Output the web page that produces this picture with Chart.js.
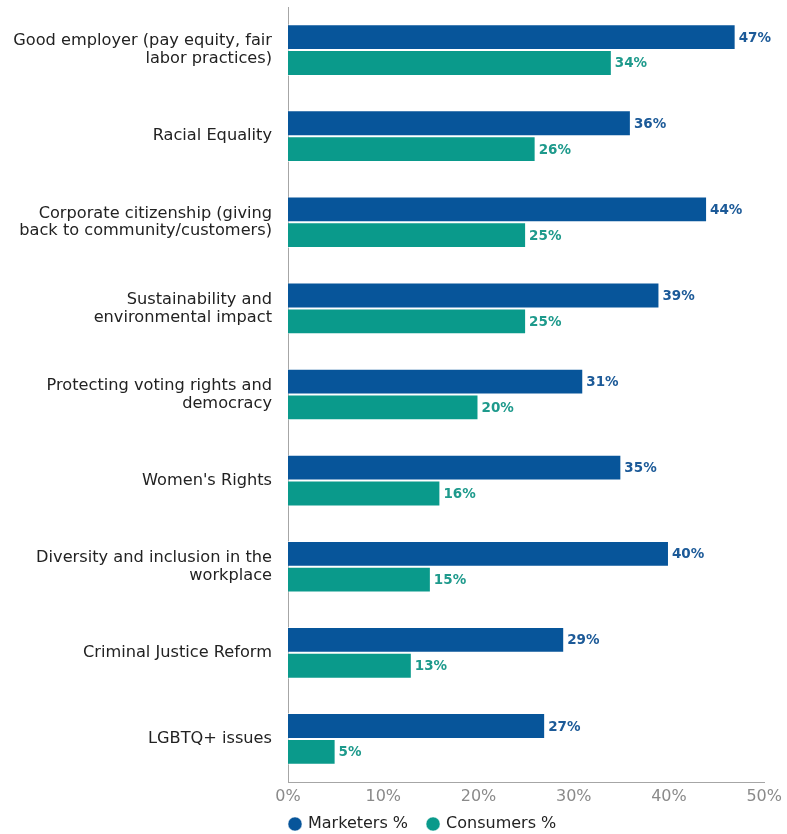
<!DOCTYPE html>
<html>
<head>
<meta charset="utf-8">
<script src="https://cdn.jsdelivr.net/npm/chart.js@4/dist/chart.umd.min.js"></script>
<style>
  html, body { margin: 0; padding: 0; background: #ffffff; overflow: hidden; }
  #wrap { width: 787px; height: 834px; position: relative; }
  canvas { display: block; }
</style>
</head>
<body>
<div id="wrap"><canvas id="c" width="787" height="834"></canvas></div>
<script>
const categories = [
  ["Good employer (pay equity, fair", "labor practices)"],
  "Racial Equality",
  ["Corporate citizenship (giving", "back to community/customers)"],
  ["Sustainability and", "environmental impact"],
  ["Protecting voting rights and", "democracy"],
  "Women's Rights",
  ["Diversity and inclusion in the", "workplace"],
  "Criminal Justice Reform",
  "LGBTQ+ issues"
];
const marketers = [47, 36, 44, 39, 31, 35, 40, 29, 27];
const consumers = [34, 26, 25, 25, 20, 16, 15, 13, 5];
const seriesNames = ["Marketers %", "Consumers %"];
const xTicks = [0, 10, 20, 30, 40, 50];

const BLUE = "#07559a";
const TEAL = "#0a9a8b";
const FONT = "'DejaVu Sans', 'Open Sans', sans-serif";

const valueLabels = {
  id: "valueLabels",
  afterDatasetsDraw(chart) {
    const ctx = chart.ctx;
    ctx.save();
    ctx.font = "bold 13.5px " + FONT;
    ctx.textBaseline = "middle";
    ctx.textAlign = "left";
    chart.data.datasets.forEach((ds, i) => {
      const meta = chart.getDatasetMeta(i);
      ctx.fillStyle = ds.labelColor;
      meta.data.forEach((bar, j) => {
        ctx.fillText(ds.data[j] + "%", bar.x + 3, bar.y + 1);
      });
    });
    ctx.restore();
  }
};

const LEGEND_PAD = 20;
const legendFix = {
  id: "legendFix",
  afterInit(chart) {
    const l = chart.legend;
    if (!l || l._fixed) return;
    const origFit = l.fit.bind(l);
    l.fit = function () { origFit(); this.height = 30; };
    l._fixed = true;
  },
  afterLayout(chart) {
    const l = chart.legend;
    if (!l) return;
    const dx = (chart.chartArea.left - LEGEND_PAD + 2) - l.left;
    l.left += dx;
    l.right += dx;
    l.top = 823 - 7 - LEGEND_PAD;
    l.bottom = chart.height;
    l.height = l.bottom - l.top;
  }
};

new Chart(document.getElementById("c"), {
  type: "bar",
  data: {
    labels: categories,
    datasets: [
      { label: seriesNames[0], data: marketers, backgroundColor: BLUE, borderColor: "rgba(255,255,255,0.55)", borderWidth: 1, labelColor: "#1c5a98" },
      { label: seriesNames[1], data: consumers, backgroundColor: TEAL, borderColor: "rgba(255,255,255,0.55)", borderWidth: 1, labelColor: "#1e9a8c" }
    ]
  },
  options: {
    indexAxis: "y",
    responsive: false,
    animation: false,
    devicePixelRatio: 1,
    datasets: { bar: { categoryPercentage: 0.6, barPercentage: 1.0 } },
    layout: { padding: { top: 7, right: 21, left: 0, bottom: 0 } },
    scales: {
      x: {
        min: 0, max: 50,
        grid: { display: false, drawTicks: false },
        border: { display: true, color: "#a6a6a6", width: 1 },
        afterBuildTicks(scale) { scale.ticks = xTicks.map(v => ({ value: v })); },
        afterFit(scale) { scale.height = 22; },
        ticks: {
          padding: 5,
          color: "#8a8a8a",
          font: { family: FONT, size: 16 },
          callback: v => v + "%",
          maxRotation: 0
        }
      },
      y: {
        grid: { display: false, drawTicks: false },
        border: { display: true, color: "#a6a6a6", width: 1 },
        afterFit(scale) { scale.width = 288; scale.paddingTop = 0; scale.paddingBottom = 0; },
        ticks: {
          padding: 16,
          color: "#222222",
          font: { family: FONT, size: 16.2, lineHeight: 1.1 }
        }
      }
    },
    plugins: {
      legend: {
        position: "bottom",
        align: "start",
        labels: {
          usePointStyle: true,
          pointStyle: "circle",
          boxWidth: 10,
          boxHeight: 10,
          padding: LEGEND_PAD,
          color: "#222222",
          font: { family: FONT, size: 16 }
        }
      },
      tooltip: { enabled: false }
    }
  },
  plugins: [valueLabels, legendFix]
});
</script>
</body>
</html>
